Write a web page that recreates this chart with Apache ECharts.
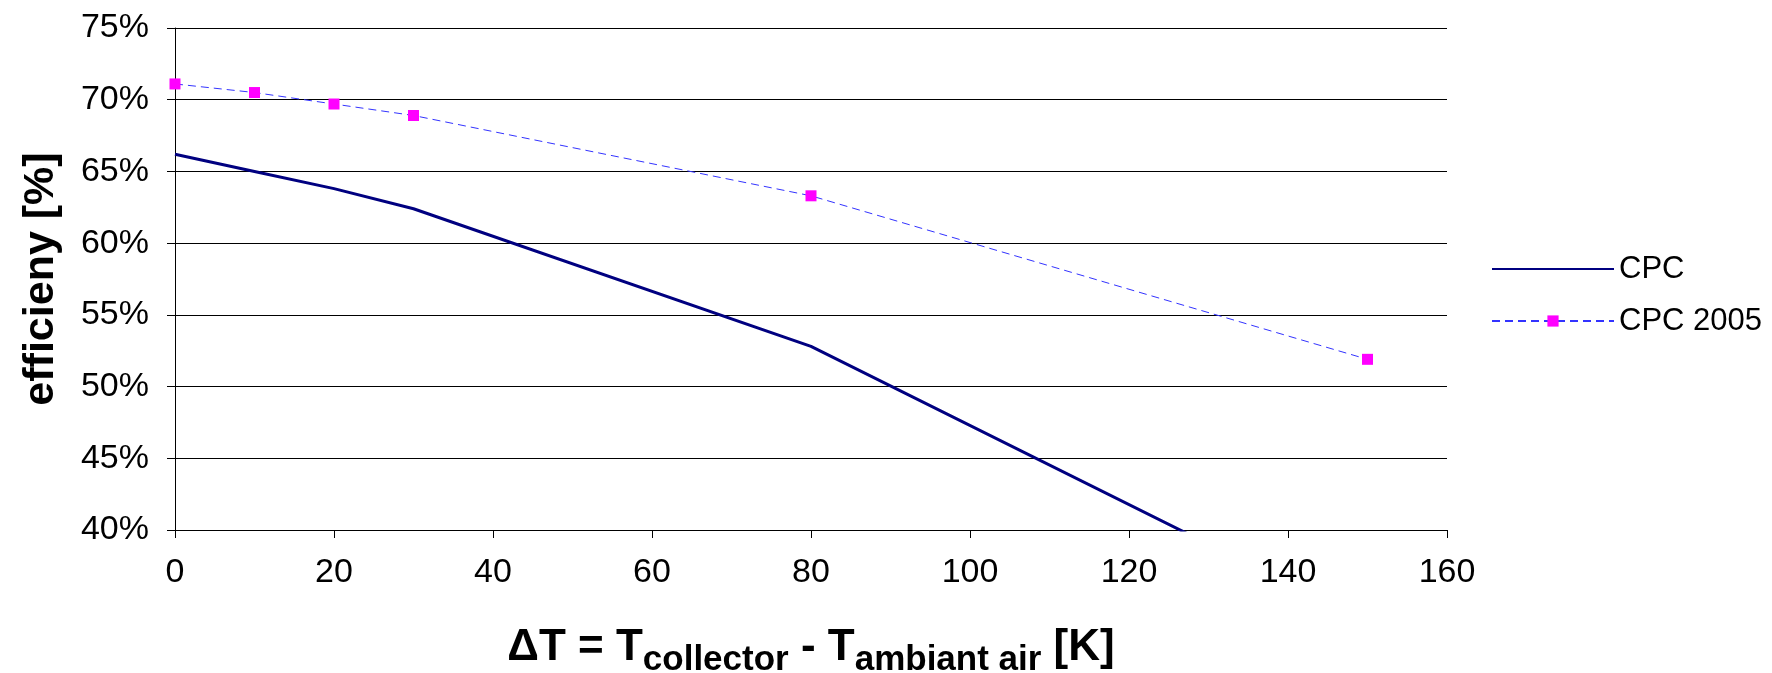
<!DOCTYPE html>
<html>
<head>
<meta charset="utf-8">
<script src="https://cdn.jsdelivr.net/npm/echarts@6/dist/echarts.min.js"></script>
<style>
  html, body { margin: 0; padding: 0; background: #fff; }
  #chart { width: 1772px; height: 673px; }
</style>
</head>
<body>
<div id="chart"></div>
<script>
// temperature difference [K]
var deltaT = [0, 10, 20, 30, 80, 150];
// efficiency in %
var cpc = [66.2, 65.0, 63.8, 62.4, 52.8, 33.5];
var cpc2005 = [71.1, 70.5, 69.7, 68.9, 63.3, 51.9];

function pairs(xs, ys) {
    return xs.map(function (x, i) { return [x, ys[i]]; });
}

var myChart = echarts.init(document.getElementById('chart'));
var font = 'Liberation Sans, Arial, sans-serif';

var option = {
    backgroundColor: '#fff',
    animation: false,
    textStyle: { fontFamily: font },
    grid: { left: 175, right: 325, top: 28, bottom: 143, outerBoundsMode: 'none', containLabel: false },
    legend: {
        orient: 'vertical',
        left: 1486,
        top: 248,
        itemWidth: 122,
        itemHeight: 14,
        itemGap: 20,
        textStyle: { fontSize: 31, color: '#000', lineHeight: 32, fontFamily: font },
        data: [
            { name: 'CPC', itemStyle: { opacity: 0 } },
            'CPC 2005'
        ]
    },
    xAxis: {
        type: 'value',
        min: 0,
        max: 160,
        interval: 20,
        name: '{m|\u0394T = T}{s|collector}{m| - T}{s|ambiant air}{m| [K]}',
        nameLocation: 'middle',
        nameGap: 96,
        nameTextStyle: {
            rich: {
                m: { fontSize: 44, fontWeight: 'bold', color: '#000', fontFamily: font,
                     verticalAlign: 'bottom', padding: [0, 0, 8, 0] },
                s: { fontSize: 35, fontWeight: 'bold', color: '#000', fontFamily: font,
                     verticalAlign: 'bottom' }
            }
        },
        axisLine: { lineStyle: { color: '#000', width: 1 } },
        axisTick: { show: true, inside: false, length: 8, lineStyle: { color: '#000' } },
        axisLabel: { fontSize: 34, color: '#000', margin: 26 },
        splitLine: { show: false }
    },
    yAxis: {
        type: 'value',
        min: 40,
        max: 75,
        interval: 5,
        name: 'efficieny [%]',
        nameLocation: 'middle',
        nameRotate: 90,
        nameGap: 112,
        nameTextStyle: { fontSize: 43, fontWeight: 'bold', color: '#000' },
        axisLine: { show: true, lineStyle: { color: '#000', width: 1 } },
        axisTick: { show: true, inside: false, length: 8, lineStyle: { color: '#000' } },
        axisLabel: { fontSize: 34, color: '#000', margin: 26, formatter: '{value}%' },
        splitLine: { show: true, lineStyle: { color: '#000', width: 1 } }
    },
    series: [
        {
            name: 'CPC',
            type: 'line',
            data: pairs(deltaT, cpc),
            showSymbol: false,
            symbol: 'none',
            clip: true,
            lineStyle: { color: '#000080', width: 3 },
            itemStyle: { color: '#000080' }
        },
        {
            name: 'CPC 2005',
            type: 'line',
            data: pairs(deltaT, cpc2005),
            symbol: 'rect',
            symbolSize: 11,
            clip: true,
            lineStyle: { color: '#3333ff', width: 1, type: [8, 5] },
            itemStyle: { color: '#ff00ff', borderWidth: 0 }
        }
    ]
};
myChart.setOption(option);
</script>
</body>
</html>
